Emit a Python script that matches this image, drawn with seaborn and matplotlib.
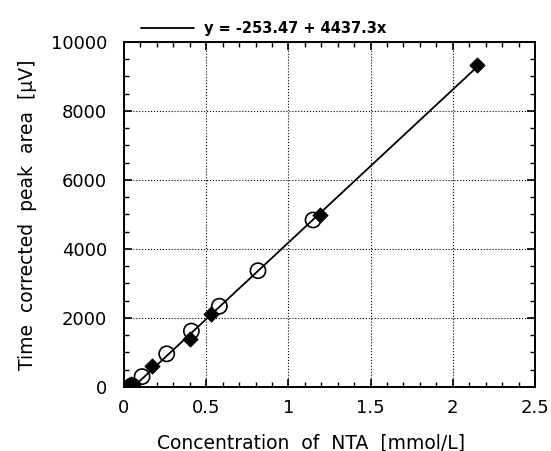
import numpy as np
import pandas as pd
import matplotlib
matplotlib.use("Agg")
import matplotlib.pyplot as plt
from matplotlib.ticker import MultipleLocator
import seaborn as sns

# filled diamonds
conc_a = [0.02, 0.03, 0.04, 0.17, 0.40, 0.53, 1.19, 2.15]
area_a = [20, 60, 100, 600, 1400, 2110, 4970, 9330]
# open circles
conc_b = [0.05, 0.11, 0.26, 0.41, 0.58, 0.815, 1.15]
area_b = [30, 300, 960, 1620, 2340, 3370, 4840]

intercept = -253.47
slope = 4437.3

sns.set_style("ticks")
plt.rcParams['font.family'] = ['DejaVu Sans']
plt.rcParams['text.color'] = 'black'
plt.rcParams['axes.labelcolor'] = 'black'

fig = plt.figure(figsize=(5.51, 4.51), dpi=100)
ax = fig.add_axes([0.225, 0.142, 0.746, 0.765])

fit_x = np.array([min(conc_a + conc_b), max(conc_a + conc_b)])
fit = pd.DataFrame({'x': fit_x, 'y': intercept + slope * fit_x})
sns.lineplot(data=fit, x='x', y='y', ax=ax, color='black', lw=1.3,
             label=f'y = {intercept} + {slope}x')

sns.scatterplot(x=conc_b, y=area_b, ax=ax, marker='o', s=120,
                facecolor='none', edgecolor='black', linewidth=1.2, zorder=3)
sns.scatterplot(x=conc_a, y=area_a, ax=ax, marker='D', s=60,
                color='black', edgecolor='black', zorder=4)

ax.set_xlim(0, 2.5)
ax.set_ylim(0, 10000)
ax.xaxis.set_minor_locator(MultipleLocator(0.1))
ax.yaxis.set_major_locator(MultipleLocator(2000))
ax.yaxis.set_minor_locator(MultipleLocator(500))
ax.set_xticks([0, 0.5, 1, 1.5, 2, 2.5])
ax.set_xticklabels(['0', '0.5', '1', '1.5', '2', '2.5'])
ax.tick_params(which='both', direction='in', top=True, right=True,
               labelsize=13, colors='black')
ax.tick_params(axis='x', which='major', pad=9)
ax.tick_params(axis='y', which='major', pad=12)
ax.tick_params(which='major', length=6, width=1.2)
ax.tick_params(which='minor', length=3.5, width=1)
ax.grid(True, which='major', linestyle=':', color='black', lw=0.8)
for s in ax.spines.values():
    s.set_linewidth(1.4)
    s.set_color('black')

ax.set_xlabel('Concentration  of  NTA  [mmol/L]', fontsize=13.5)
ax.xaxis.set_label_coords(0.455, -0.135)
ax.set_ylabel('Time  corrected  peak  area  [\u00b5V]', fontsize=13.5, labelpad=10)

leg = ax.legend(loc='lower center', bbox_to_anchor=(0.34, 0.995), frameon=False,
                prop={'family': 'DejaVu Sans', 'weight': 'bold', 'size': 10.5},
                handlelength=3.6, handletextpad=0.7, borderaxespad=0.1)
for t in leg.get_texts():
    t.set_color('black')

fig.savefig('out.png', dpi=100)
